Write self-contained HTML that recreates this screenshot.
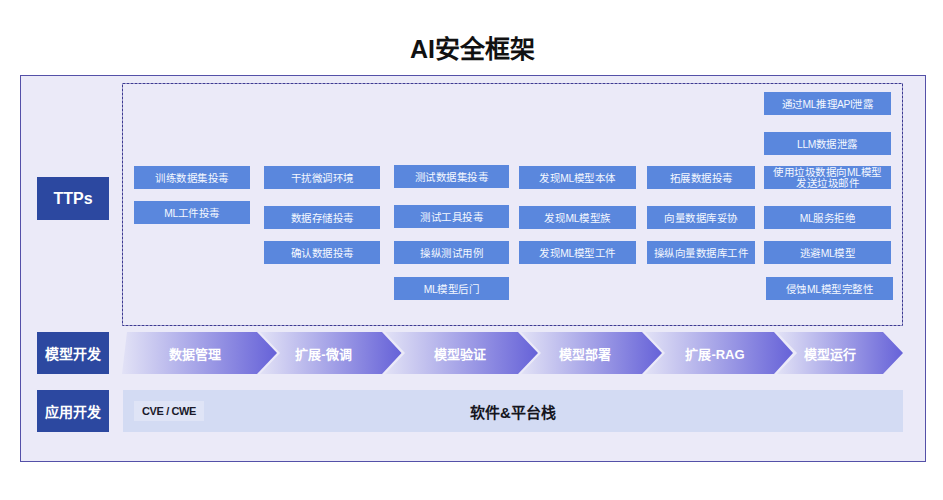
<!DOCTYPE html>
<html lang="zh-CN">
<head>
<meta charset="utf-8">
<style>
html,body{margin:0;padding:0;background:#ffffff;}
body{width:943px;height:500px;position:relative;overflow:hidden;font-family:"Liberation Sans",sans-serif;}
.abs{position:absolute;}
.title{position:absolute;left:0;width:943px;top:32px;padding-left:2px;box-sizing:border-box;text-align:center;font-size:25px;font-weight:bold;color:#111;line-height:34px;}
.outer{position:absolute;left:20px;top:75px;width:904px;height:385px;background:#ebeaf8;border:1px solid #5450a8;}
.dash{position:absolute;left:122px;top:83px;width:779px;height:241px;border:1px dashed #3f3b94;}
.lab{position:absolute;left:37px;width:72px;background:#2c48a0;color:#fff;font-weight:bold;display:flex;align-items:center;justify-content:center;}
.b{position:absolute;white-space:nowrap;height:23px;background:#5a87dd;color:#f4f7ff;font-size:10.5px;letter-spacing:0.5px;text-align:center;line-height:23px;padding-top:1px;box-sizing:border-box;}
.b2{line-height:10.5px;padding-top:0.5px;}
.l{letter-spacing:-0.4px;font-size:10.3px;}
.sw{position:absolute;left:123px;top:390px;width:780px;height:42px;background:#d3dbf3;}
.cve{position:absolute;left:134px;top:401px;width:70px;height:20px;background:#dfe4f6;font-size:11px;font-weight:bold;color:#1a1a2a;letter-spacing:-0.4px;display:flex;align-items:center;justify-content:center;}
.swt{position:absolute;left:123px;width:780px;top:390px;height:42px;display:flex;align-items:center;justify-content:center;font-size:15px;font-weight:bold;color:#151520;}
.ct{position:absolute;white-space:nowrap;top:332px;height:42px;display:flex;align-items:center;justify-content:center;font-size:13px;font-weight:bold;color:#fff;}
</style>
</head>
<body>
<div class="title">AI安全框架</div>
<div class="outer"></div>
<svg class="abs" style="left:0;top:0;" width="943" height="500"><rect x="122.5" y="83.5" width="780" height="242" fill="none" stroke="#3d3a92" stroke-width="1" stroke-dasharray="3 1"/></svg>

<div class="lab" style="top:177px;height:43px;font-size:16px;">TTPs</div>
<div class="lab" style="top:332px;height:42px;font-size:14px;">模型开发</div>
<div class="lab" style="top:390px;height:42px;font-size:14px;">应用开发</div>

<!-- col1 -->
<div class="b" style="left:134px;top:166px;width:116px;">训练数据集投毒</div>
<div class="b" style="left:134px;top:201px;width:116px;"><span class="l">ML</span>工件投毒</div>
<!-- col2 -->
<div class="b" style="left:264px;top:166px;width:116px;">干扰微调环境</div>
<div class="b" style="left:264px;top:206px;width:116px;">数据存储投毒</div>
<div class="b" style="left:264px;top:241px;width:116px;">确认数据投毒</div>
<!-- col3 -->
<div class="b" style="left:394px;top:165px;width:115px;">测试数据集投毒</div>
<div class="b" style="left:394px;top:205px;width:115px;">测试工具投毒</div>
<div class="b" style="left:394px;top:241px;width:115px;">操纵测试用例</div>
<div class="b" style="left:394px;top:277px;width:115px;"><span class="l">ML</span>模型后门</div>
<!-- col4 -->
<div class="b" style="left:519px;top:166px;width:117px;">发现<span class="l">ML</span>模型本体</div>
<div class="b" style="left:519px;top:206px;width:117px;">发现<span class="l">ML</span>模型族</div>
<div class="b" style="left:519px;top:241px;width:117px;">发现<span class="l">ML</span>模型工件</div>
<!-- col5 -->
<div class="b" style="left:647px;top:166px;width:108px;">拓展数据投毒</div>
<div class="b" style="left:647px;top:206px;width:108px;">向量数据库妥协</div>
<div class="b" style="left:647px;top:241px;width:108px;">操纵向量数据库工件</div>
<!-- col6 -->
<div class="b" style="left:764px;top:92px;width:127px;">通过<span class="l">ML</span>推理<span class="l">API</span>泄露</div>
<div class="b" style="left:764px;top:132px;width:127px;"><span class="l">LLM</span>数据泄露</div>
<div class="b b2" style="left:764px;top:166px;width:127px;">使用垃圾数据向<span class="l">ML</span>模型<br>发送垃圾邮件</div>
<div class="b" style="left:764px;top:206px;width:127px;"><span class="l">ML</span>服务拒绝</div>
<div class="b" style="left:764px;top:241px;width:127px;">逃避<span class="l">ML</span>模型</div>
<div class="b" style="left:766px;top:277px;width:127px;">侵蚀<span class="l">ML</span>模型完整性</div>

<!-- chevrons -->
<svg class="abs" style="left:0;top:0;" width="943" height="500">
<defs>
<linearGradient id="g" x1="0" y1="0" x2="1" y2="0">
<stop offset="0" stop-color="#e2e2f6"/>
<stop offset="1" stop-color="#6662d8"/>
</linearGradient>
</defs>
<polygon fill="url(#g)" points="127,332 257,332 277,353 257,374 122,374"/>
<polygon fill="url(#g)" points="260,332 382,332 401.5,353 382,374 260,374 280,353"/>
<polygon fill="url(#g)" points="385,332 518,332 538,353 518,374 385,374 405,353"/>
<polygon fill="url(#g)" points="521,332 642,332 662,353 642,374 521,374 541,353"/>
<polygon fill="url(#g)" points="645,332 774,332 793,353 774,374 645,374 665,353"/>
<polygon fill="url(#g)" points="777,332 883,332 903,353 883,374 777,374 797,353"/>
</svg>
<div class="ct" style="left:170px;width:50px;">数据管理</div>
<div class="ct" style="left:296px;width:55px;">扩展-微调</div>
<div class="ct" style="left:430px;width:60px;">模型验证</div>
<div class="ct" style="left:555px;width:60px;">模型部署</div>
<div class="ct" style="left:685px;width:60px;">扩展-RAG</div>
<div class="ct" style="left:800px;width:60px;">模型运行</div>

<div class="sw"></div>
<div class="swt">软件&amp;平台栈</div>
<div class="cve">CVE / CWE</div>
</body>
</html>
